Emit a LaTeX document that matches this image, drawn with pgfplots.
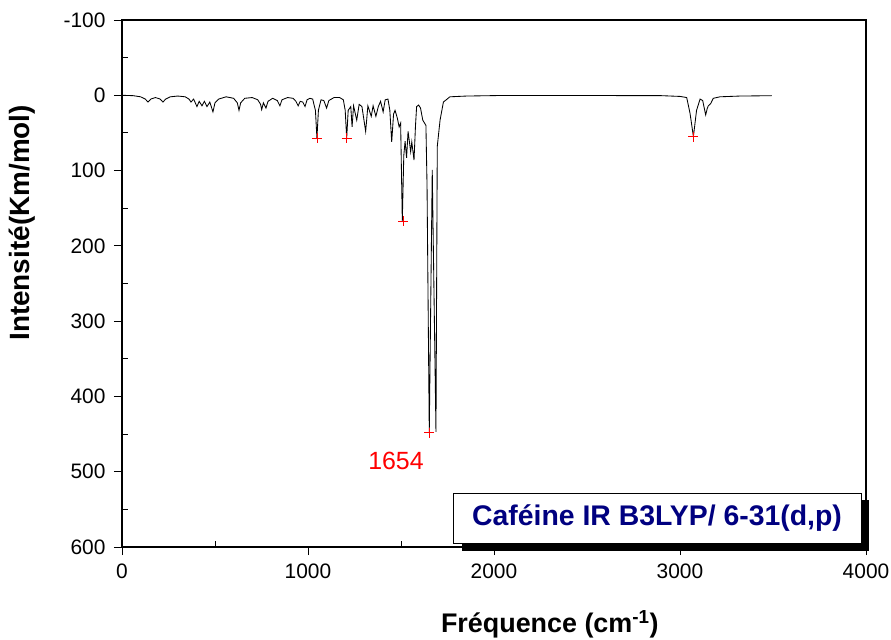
\documentclass[border=0pt]{standalone}
\usepackage{pgfplots}
\pgfplotsset{compat=1.18}
\usepackage{fontspec}
\setmainfont{Liberation Sans}
\definecolor{navy}{RGB}{0,0,128}
\begin{document}
\begin{tikzpicture}
\begin{axis}[
  at={(0,0)}, anchor=south west,
  scale only axis, width=744bp, height=527bp,
  xmin=0, xmax=4000, ymin=-100, ymax=600,
  y dir=reverse,
  xtick={0,1000,2000,3000,4000},
  xticklabels={0,1000,2000,3000,4000},
  ytick={-100,0,100,200,300,400,500,600},
  yticklabels={-100,0,100,200,300,400,500,600},
  minor xtick={500,1500,2500,3500},
  minor ytick={-50,50,150,250,350,450,550},
  tick pos=left, tick align=outside,
  major tick length=8bp, minor tick length=6bp,
  every minor x tick/.append style={yshift=6bp},
  every minor y tick/.append style={xshift=6bp},
  tick style={black, line width=0.9bp},
  axis line style={line width=1.1bp},
  ticklabel style={font=\fontsize{21}{23}\selectfont},
  xticklabel style={yshift=-5bp},
  yticklabel style={xshift=-5bp},
  xlabel={Fréquence (cm\textsuperscript{-1})},
  ylabel={Intensité(Km/mol)},
  xlabel style={font=\bfseries\fontsize{27}{29}\selectfont, at={(axis description cs:0.575,-0.147)}, anchor=center},
  ylabel style={font=\bfseries\fontsize{28}{30}\selectfont, at={(axis description cs:-0.134,0.615)}, anchor=center},
  clip=false,
]
\addplot[black, line width=0.85bp, sharp plot] coordinates {
(0,0) (60,0.5) (100,2) (125,5) (140,9) (155,5) (180,3) (205,5) (220,9) (235,5) (260,2)
(300,1) (340,2) (360,5) (371,9) (385,5) (403,15) (415,8) (430,14) (443,8) (457,15)
(472,9) (489,22) (500,10) (520,5) (560,2) (600,4) (620,10) (629,20) (638,10) (660,4)
(700,3) (730,6) (745,12) (751,19) (760,10) (774,17) (785,8) (810,4) (835,7) (849,14)
(860,6) (890,3) (920,4) (935,8) (947,14) (958,8) (972,9) (984,15) (995,6) (1010,4)
(1025,5) (1040,20) (1048,57) (1056,20) (1070,6) (1085,7) (1100,17) (1112,7) (1140,3)
(1170,3) (1190,6) (1200,20) (1208,57) (1216,20) (1230,15) (1237,42) (1245,14) (1262,33)
(1275,12) (1290,15) (1310,48) (1322,14) (1340,28) (1350,14) (1365,28) (1378,15) (1390,8)
(1404,22) (1415,6) (1430,5) (1440,20) (1450,62) (1460,25) (1468,20) (1480,30) (1490,42)
(1498,37) (1507,167) (1515,80) (1522,61) (1530,83) (1538,48) (1552,75) (1558,62)
(1570,86) (1578,40) (1584,15) (1595,13) (1605,17) (1617,33) (1634,40) (1640,120)
(1652,447) (1668,99) (1688,447) (1695,68) (1710,33) (1728,9) (1763,2) (1853,1)
(2032,0.3) (2500,0.3) (2900,0.5) (3000,1.5) (3036,3) (3054,24) (3072,55) (3089,20)
(3108,5) (3122,7) (3138,26) (3146,18) (3152,14) (3165,11) (3179,4) (3215,2) (3323,1)
(3400,0.8) (3493,0.5)
};
\addplot[only marks, red, mark=+, mark size=5bp, mark options={line width=0.7bp}] coordinates {
(1048,57) (1208,57) (1511,167) (1652,448) (3072,55)
};
\node[red, font=\fontsize{25}{27}\selectfont] at (axis cs:1473,486) {1654};
\end{axis}
\fill[black] (340bp,-4bp) rectangle (747bp,47bp);
\draw[black, fill=white, line width=0.8bp] (331bp,4bp) rectangle (739bp,54bp);
\node[text=navy, font=\bfseries\fontsize{28.5}{30}\selectfont] at (535bp,29bp) {Caféine IR B3LYP/ 6-31(d,p)};
\pgfresetboundingbox
\path[use as bounding box] (-122bp,-93bp) rectangle (769bp,547bp);
\end{tikzpicture}
\end{document}
